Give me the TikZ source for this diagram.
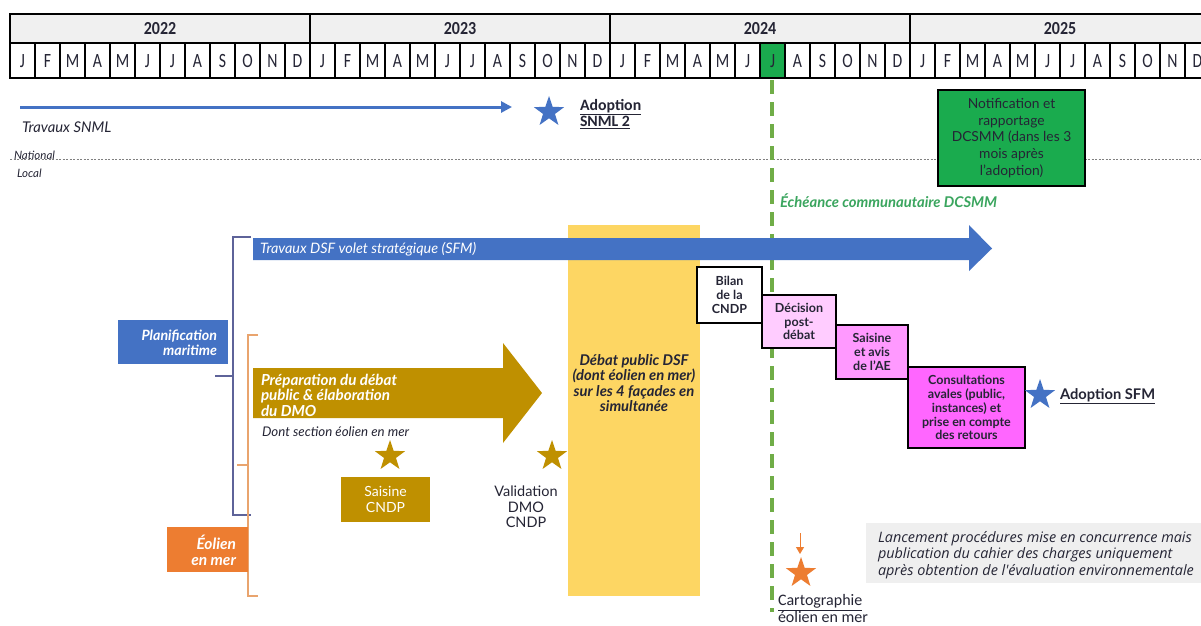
\documentclass[tikz,border=0pt]{standalone}
\usepackage{fontspec}
\setmainfont{Lato}
\newfontfamily\calfont{Carlito}
\newfontfamily\osfont{Open Sans}
\usetikzlibrary{shapes.geometric,arrows.meta}
\definecolor{blu}{HTML}{4472C4}
\definecolor{gld}{HTML}{BF9000}
\definecolor{yel}{HTML}{FDD663}
\definecolor{orng}{HTML}{ED7D31}
\definecolor{grn}{HTML}{1AAB4E}
\definecolor{dgrn}{HTML}{70AD47}
\definecolor{tgrn}{HTML}{3AA55E}
\definecolor{pinkA}{HTML}{FFCCFF}
\definecolor{pinkB}{HTML}{FF99FF}
\definecolor{pinkC}{HTML}{FF66FF}
\definecolor{brk}{HTML}{5E6399}
\definecolor{obrk}{HTML}{E9A46E}
\definecolor{txt}{HTML}{252535}
\definecolor{hdr}{HTML}{F0F0F0}
\definecolor{gbox}{HTML}{EFEFEF}
\tikzset{
  plain/.style={inner sep=0pt, outer sep=0pt, text=txt},
  stepbox/.style={draw=black, line width=1.8pt, align=center, inner sep=0pt,
    font=\bfseries\fontsize{12.5}{13.9}\selectfont, text=txt},
  starA/.style={star, star points=5, star point ratio=2.55, inner sep=0pt,
    minimum size=32pt, draw=none},
  monlbl/.style={inner sep=0pt, text=txt, font=\calfont\fontsize{15}{15}\selectfont},
}
\begin{document}
\begin{tikzpicture}[x=1pt,y=-1pt]
\useasboundingbox (0,0) rectangle (1201,625);
\clip (0,0) rectangle (1201,625);
\fill[white] (0,0) rectangle (1201,625);
% header
\fill[hdr] (10,14) rectangle (1220,43);
\fill[white] (10,43) rectangle (1220,78);
\fill[grn] (760,43) rectangle (785,78);
\foreach \k in {1,...,47} {\draw[line width=1.5pt] ({10+25*\k},43) -- ({10+25*\k},78);}
\draw[line width=2.6pt] (1220,14) -- (10,14) -- (10,78) -- (1220,78);
\draw[line width=2.6pt] (10,43) -- (1220,43);
\foreach \xx in {310,610,910} {\draw[line width=2.6pt] (\xx,14) -- (\xx,78);}
\foreach \yr [count=\j from 0] in {2022,2023,2024,2025} {
  \node[inner sep=0pt, text=txt, font=\calfont\bfseries\fontsize{16}{16}\selectfont] (y\yr) at ({160+300*\j},28.5) {\scalebox{1}[1.15]{\yr}};
  \foreach \l [count=\i from 0] in {J,F,M,A,M,J,J,A,S,O,N,D} {
    \node[monlbl] (m\yr-\i) at ({22.5+300*\j+25*\i},61) {\scalebox{1.05}[1.35]{\l}};
  }
}
% Travaux SNML
\coordinate (snA) at (20,107);
\coordinate (snB) at (512,107);
\draw[blu, line width=3pt, -{Triangle[length=11pt,width=11pt]}] (snA) -- (snB);
\node[plain, anchor=west, font=\itshape\fontsize{14.8}{16}\selectfont] (tsnml) at (22,127) {Travaux SNML};
\node[starA, fill=blu] (st1) at (549,112) {};
\node[plain, anchor=west, align=left, font=\calfont\bfseries\fontsize{15.8}{15.5}\selectfont] (asnml) at (580,114) {\underline{Adoption}\\\underline{SNML 2}};
% national / local
\coordinate (nl1) at (10,159);
\coordinate (nl2) at (1201,159);
\draw[gray, line width=0.8pt, dash pattern=on 2pt off 1.5pt] (nl1) -- (nl2);
\node[plain, anchor=west, font=\itshape\fontsize{11.5}{12}\selectfont] (nat) at (14,155) {National};
\node[plain, anchor=west, font=\itshape\fontsize{11.5}{12}\selectfont] (loc) at (17,173) {Local};
% yellow debate column
\fill[yel] (568,225) rectangle (700,596);
\node[plain, align=center, font=\bfseries\itshape\fontsize{14.8}{15.6}\selectfont] (debat) at (634,383) {Débat public DSF\\(dont éolien en mer)\\sur les 4 façades en\\simultanée};
% green dashed line
\coordinate (gl1) at (772,80);
\coordinate (gl2) at (772,612);
\draw[dgrn, line width=4pt, dash pattern=on 14pt off 8pt] (gl1) -- (gl2);
\node[plain, anchor=west, text=tgrn, font=\bfseries\itshape\fontsize{14.8}{16}\selectfont] (eche) at (780,201) {Échéance communautaire DCSMM};
% notification box
\node[draw=black, line width=2pt, fill=grn, minimum width=147pt, minimum height=96pt, inner sep=0pt, align=center, text=txt, font=\fontsize{13.8}{16.7}\selectfont] (notif) at (1011.5,138) {Notification et\\rapportage\\DCSMM (dans les 3\\mois après\\l'adoption)};
% DSF blue arrow
\fill[blu] (253,238) -- (969,238) -- (969,225) -- (992,248.5) -- (969,271) -- (969,260) -- (253,260) -- cycle;
\node[plain, anchor=west, text=white, font=\itshape\fontsize{14.4}{15}\selectfont] (dsf) at (260,249) {Travaux DSF volet stratégique (SFM)};
% brackets
\coordinate (pb1) at (251,237);
\coordinate (pb2) at (233,237);
\coordinate (pb3) at (233,515);
\coordinate (pb4) at (251,515);
\coordinate (pbm) at (215,376);
\coordinate (pbm2) at (233,376);
\draw[brk, line width=1.2pt] (pb1) -- (pb2) -- (pb3) -- (pb4);
\draw[brk, line width=1.2pt] (pbm) -- (pbm2);
\coordinate (ob1) at (258,335);
\coordinate (ob2) at (248,335);
\coordinate (ob3) at (248,596);
\coordinate (ob4) at (258,596);
\coordinate (obm) at (237,465);
\coordinate (obm2) at (248,465);
\draw[obrk, line width=1.5pt] (ob1) -- (ob2) -- (ob3) -- (ob4);
\draw[obrk, line width=1.5pt] (obm) -- (obm2);
% left labels
\fill[blu] (118,320) rectangle (228,364);
\node[plain, anchor=east, align=right, text=white, font=\bfseries\itshape\fontsize{14.2}{14.5}\selectfont] (plan) at (217,343) {Planification\\maritime};
\fill[orng] (167,527) rectangle (248,572);
\node[plain, anchor=east, align=right, text=white, font=\bfseries\itshape\fontsize{15.5}{16}\selectfont] (eol) at (236,550) {Éolien\\en mer};
% gold arrow
\fill[gld] (253,368) -- (503,368) -- (503,343) -- (542,393) -- (503,443) -- (503,418) -- (253,418) -- cycle;
\node[plain, anchor=west, align=left, text=white, font=\bfseries\itshape\fontsize{15.2}{15.5}\selectfont] (prep) at (261,395) {Préparation du débat\\public \& élaboration\\du DMO};
\node[plain, anchor=west, font=\itshape\fontsize{13.3}{14}\selectfont] (dont) at (262,432) {Dont section éolien en mer};
\node[starA, fill=gld] (st2) at (390,456) {};
\node[starA, fill=gld] (st3) at (552,456) {};
\node[fill=gld, minimum width=89pt, minimum height=45pt, inner sep=0pt, align=center, text=white, font=\fontsize{14}{15.5}\selectfont] (saisc) at (385.5,499.5) {Saisine\\CNDP};
\node[plain, align=center, font=\fontsize{14.5}{15.3}\selectfont] (valid) at (526,507) {Validation\\DMO\\CNDP};
% step boxes
\node[stepbox, fill=white, minimum width=65pt, minimum height=56pt] (bilan) at (729.5,295) {Bilan\\de la\\CNDP};
\node[stepbox, fill=pinkA, minimum width=74pt, minimum height=53pt] (decis) at (799,321.5) {Décision\\post-\\débat};
\node[stepbox, fill=pinkB, minimum width=72pt, minimum height=54pt] (saisae) at (872,352) {Saisine\\et avis\\de l'AE};
\node[stepbox, fill=pinkC, minimum width=117pt, minimum height=81pt] (consu) at (966.5,407.5) {Consultations\\avales (public,\\instances) et\\prise en compte\\des retours};
\node[starA, fill=blu] (st4) at (1040,395) {};
\node[plain, anchor=west, font=\bfseries\fontsize{14.7}{15}\selectfont] (asfm) at (1060,396) {\underline{Adoption SFM}};
% cartographie
\coordinate (ca1) at (800,533);
\coordinate (ca2) at (800,554);
\draw[orng, line width=1pt, -{Triangle[length=7pt,width=8pt]}] (ca1) -- (ca2);
\node[starA, fill=orng] (st5) at (801,573) {};
\node[plain, anchor=west, align=left, font=\calfont\fontsize{16}{14.5}\selectfont] (carto) at (778,608.5) {\underline{Cartographie}\\éolien en mer};
% grey note
\fill[gbox] (866,523) rectangle (1220,583);
\node[plain, anchor=west, align=left, font=\osfont\itshape\fontsize{14.4}{16.8}\selectfont] (lanc) at (878,555) {Lancement procédures mise en concurrence mais\\publication du cahier des charges uniquement\\après obtention de l'évaluation environnementale};
\end{tikzpicture}
\end{document}
